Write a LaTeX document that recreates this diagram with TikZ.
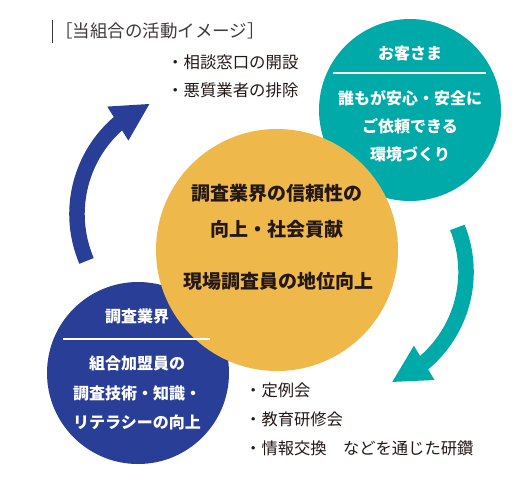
\documentclass[tikz,border=0pt]{standalone}
\usepackage{fontspec}
\setmainfont{Noto Sans CJK JP}
\usetikzlibrary{arrows.meta,bending}
\definecolor{kyakuteal}{RGB}{0,170,168}
\definecolor{gyokaiblue}{RGB}{41,62,150}
\definecolor{chuoorange}{RGB}{238,184,74}
\definecolor{sumi}{RGB}{35,24,21}
\definecolor{midashigray}{RGB}{62,58,57}
\tikzset{
	maru/.style={circle, inner sep=0pt, draw=none},
	shirotext/.style={text=white, align=center, font=\fontsize{16}{28}\selectfont\bfseries},
	chuotext/.style={text=sumi, align=center, font=\fontsize{19}{36}\selectfont\bfseries},
	kajo/.style={text=sumi, anchor=west, inner sep=0pt, font=\fontsize{16.3}{20}\selectfont},
	yajirushi/.style={line width=15.5pt, -{Triangle[length=38pt, width=37pt]}}
}
\begin{document}
\begin{tikzpicture}[x=1pt, y=-1pt]
	\useasboundingbox (0,0) rectangle (530,483);
	% midashi
	\draw[midashigray, line width=1pt] (52,20)--(52,43);
	\node[anchor=west, inner sep=0pt, text=midashigray, font=\fontsize{17.5}{20}\selectfont] (midashi) at (55,31) {［当組合の活動イメージ］};
	% maru
	\node[maru, fill=kyakuteal, minimum size=182] (kyaku) at (410,110) {};
	\node[maru, fill=gyokaiblue, minimum size=182] (gyokai) at (138,373) {};
	\node[maru, fill=chuoorange, minimum size=242] (chuo) at (277,250) {};
	% okyakusama
	\node[shirotext] (kyakutitle) at (410,53) {お客さま};
	\draw[white, line width=2pt] (333,73)--(486,73);
	\node[shirotext] (kyakubody) at (410,126) {誰もが安心・安全に\\ご依頼できる\\環境づくり};
	% chosa gyokai
	\node[shirotext] (gyokaititle) at (137,316) {調査業界};
	\draw[white, line width=2pt] (63,339)--(210,339);
	\node[shirotext, font=\fontsize{16}{29.5}\selectfont\bfseries] (gyokaibody) at (137,393) {組合加盟員の\\調査技術・知識・\\リテラシーの向上};
	% chuo
	\node[chuotext] (chuoue) at (277,211) {調査業界の信頼性の\\向上・社会貢献};
	\node[chuotext] (chuoshita) at (278,281) {現場調査員の地位向上};
	% yajirushi
	\coordinate (aonemoto) at (197,214);
	\coordinate (midorinemoto) at (347,272);
	\draw[yajirushi, gyokaiblue] (aonemoto) ++(157:120) arc[start angle=157, end angle=247, radius=120];
	\draw[yajirushi, kyakuteal] (midorinemoto) ++(-22:119) arc[start angle=-22, end angle=68, radius=119];
	% kajo gaki
	\node[kajo, font=\fontsize{16.4}{20}\selectfont] (soudan) at (167,62) {・相談窓口の開設};
	\node[kajo, font=\fontsize{16.4}{20}\selectfont] (haijo) at (167,90) {・悪質業者の排除};
	\node[kajo] (teirei) at (245,390) {・定例会};
	\node[kajo] (kenshu) at (245,419) {・教育研修会};
	\node[kajo] (kensan) at (245,448) {・情報交換　などを通じた研鑽};
\end{tikzpicture}
\end{document}
